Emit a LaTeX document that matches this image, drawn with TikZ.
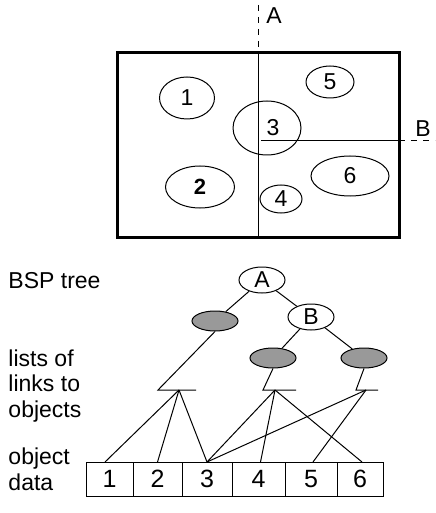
\documentclass[tikz,border=0pt]{standalone}
\usepackage{fontspec}
\setmainfont{Liberation Sans}
\usetikzlibrary{shapes.geometric,positioning}

\begin{document}
\begin{tikzpicture}[
    x=0.5pt,
    y=-0.5pt,
    line width=0.5pt,
    font=\fontsize{11.5}{12.75}\selectfont,
    obj node/.style={ellipse,draw,inner sep=0pt},
    tree node/.style={ellipse,draw,fill=white,minimum width=23pt,minimum height=13pt,inner sep=0pt},
    leaf node/.style={ellipse,draw,fill=gray!80,minimum width=23pt,minimum height=10pt,inner sep=0pt},
    data node/.style={rectangle,draw,minimum height=17pt,inner sep=0pt,outer sep=0pt,font=\fontsize{12.5}{14}\selectfont},
    side label/.style={anchor=base west,align=left,inner sep=0pt}
]
\useasboundingbox (0,0) rectangle (435,513);

% Scene
\draw[line width=1.5pt] (117,53) rectangle (399,237);

\node[obj node, minimum width=27.5pt, minimum height=21pt] (o1) at (187,98) {1};
\node[obj node, minimum width=34.5pt, minimum height=21pt, font=\fontsize{11}{12}\selectfont\bfseries] (o2) at (200,187) {2};
\node[obj node, minimum width=34pt, minimum height=27pt] (o3) at (267,128) {\hspace{6pt}3};
\node[obj node, minimum width=21pt, minimum height=14pt] (o4) at (281,199) {4};
\node[obj node, minimum width=24pt, minimum height=16pt] (o5) at (330,82) {5};
\node[obj node, minimum width=39pt, minimum height=20pt] (o6) at (350,176) {6};

% Splitting planes
\coordinate (a top) at (258,5);
\coordinate (a in) at (258,53);
\coordinate (a bot) at (258,237);
\coordinate (b in) at (261,141);
\coordinate (b edge) at (399,141);
\coordinate (b out) at (435,141);
\draw[dashed] (a top) -- (a in);
\draw (a in) -- (a bot);
\draw (b in) -- (b edge);
\draw[dashed] (b edge) -- (b out);
\node[anchor=center] (la) at (274,16) {A};
\node[anchor=center] (lb) at (423,129) {B};

% BSP tree
\node[tree node] (ta) at (262,280) {A};
\node[leaf node] (left) at (215,321) {};
\node[tree node] (tb) at (311,317) {B};
\node[leaf node] (mid) at (273,358) {};
\node[leaf node] (right) at (364,358) {};

\draw (ta) -- (left);
\draw (ta) -- (tb);
\draw (tb) -- (mid);
\draw (tb) -- (right);

% Lists of links
\coordinate (bar1) at (158,390);
\coordinate (bar1 end) at (196,390);
\coordinate (lnk1) at (179,390);
\coordinate (bar2) at (263,390);
\coordinate (bar2 end) at (296,390);
\coordinate (lnk2) at (275,390);
\coordinate (bar3) at (356,390);
\coordinate (bar3 end) at (378,390);
\coordinate (lnk3) at (366,390);

\draw (left.south) -- (bar1) -- (bar1 end);
\draw (mid.south) -- (bar2) -- (bar2 end);
\draw (right.south) -- (bar3) -- (bar3 end);

% Object data
\node[data node, minimum width=23.5pt] (d1) at (109.5,479) {1};
\node[data node, minimum width=24.5pt, right=0pt of d1] (d2) {2};
\node[data node, minimum width=25pt, right=0pt of d2] (d3) {3};
\node[data node, minimum width=26.5pt, right=0pt of d3] (d4) {4};
\node[data node, minimum width=26pt, right=0pt of d4] (d5) {5};
\node[data node, minimum width=23pt, right=0pt of d5] (d6) {6};

% Links
\draw (lnk1) -- ([xshift=-2.25pt]d1.north);
\draw (lnk1) -- (d2.north);
\draw (lnk1) -- (d3.north);
\draw (lnk2) -- (d3.north);
\draw (lnk2) -- ([xshift=1pt]d4.north);
\draw (lnk2) -- ([xshift=1pt]d6.north);
\draw (lnk3) -- (d3.north);
\draw (lnk3) -- ([xshift=1pt]d5.north);

% Side labels
\node[side label] (bsp) at (8,288) {BSP tree};
\node[side label] (lists) at (8,417) {lists of\\links to\\objects};
\node[side label] (data) at (8,490) {object\\data};

\end{tikzpicture}
\end{document}
